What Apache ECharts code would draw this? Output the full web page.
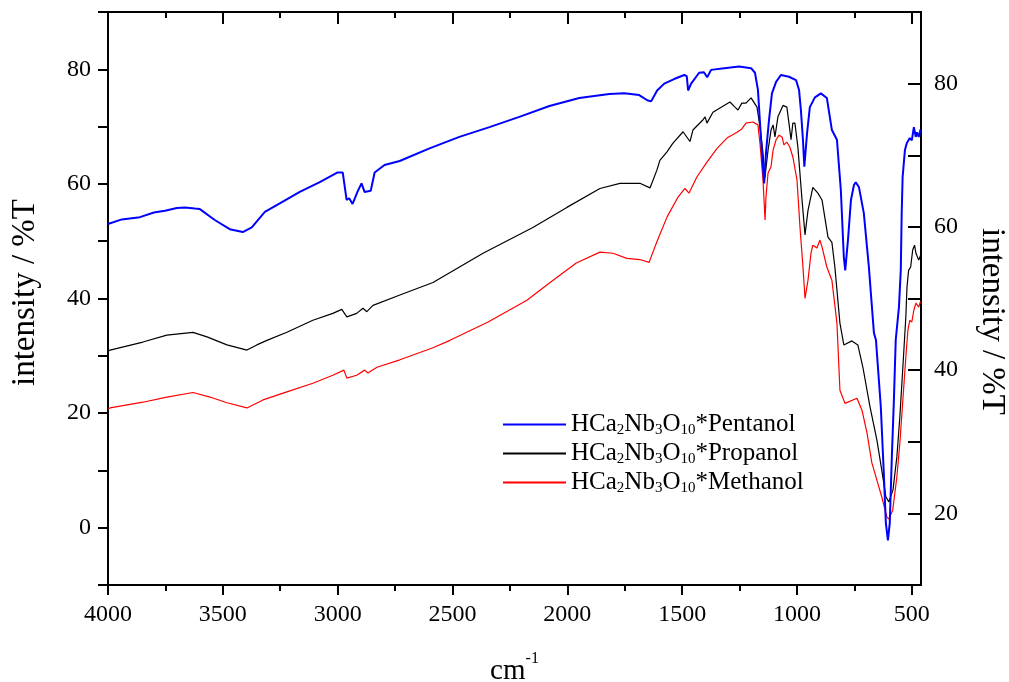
<!DOCTYPE html>
<html>
<head>
<meta charset="utf-8">
<script src="https://cdn.jsdelivr.net/npm/echarts@6/dist/echarts.min.js"></script>
<style>html,body{margin:0;padding:0;background:#fff;}#c{width:1009px;height:682px;}</style>
</head>
<body>
<div id="c"></div>
<script>
const xMajorTicks = [4000, 3500, 3000, 2500, 2000, 1500, 1000, 500];
const xMinorTicks = [3750, 3250, 2750, 2250, 1750, 1250, 750];
const solvents = ['Pentanol', 'Propanol', 'Methanol'];
const seriesColors = ['#0000ff', '#000000', '#ff0000'];

const pentanol = [[4000,53.0],[3940,53.8],[3861,54.2],[3800,55.0],[3752,55.3],[3700,55.8],[3665,55.9],[3622,55.7],[3600,55.6],[3535,53.7],[3470,52.1],[3413,51.6],[3374,52.4],[3317,55.1],[3252,56.6],[3165,58.6],[3078,60.3],[3000,62.0],[2978,62.0],[2961,57.2],[2950,57.5],[2935,56.5],[2913,58.7],[2896,60.1],[2883,58.6],[2856,58.8],[2839,62.0],[2796,63.3],[2730,64.0],[2600,66.2],[2470,68.2],[2339,69.9],[2209,71.7],[2078,73.6],[1948,75.0],[1817,75.7],[1752,75.8],[1687,75.5],[1652,74.6],[1635,74.4],[1609,76.3],[1578,77.5],[1535,78.3],[1491,79.0],[1480,78.8],[1474,76.3],[1461,77.5],[1426,79.4],[1405,79.5],[1391,78.6],[1374,79.9],[1317,80.2],[1252,80.5],[1200,80.2],[1183,79.4],[1170,76.4],[1161,70.6],[1150,64.0],[1143,60.1],[1135,65.4],[1122,71.1],[1109,75.8],[1091,77.8],[1070,79.0],[1035,78.7],[1004,78.1],[991,76.4],[983,72.9],[974,67.7],[968,63.0],[956,68.9],[944,73.4],[922,75.1],[896,75.8],[870,75.0],[848,69.4],[826,67.7],[809,58.9],[796,47.2],[790,44.9],[778,50.2],[765,57.2],[752,59.8],[744,60.3],[730,59.4],[709,54.9],[687,45.5],[665,34.0],[656,32.7],[635,21.1],[622,9.5],[613,0.8],[604,-2.2],[596,0.8],[587,12.3],[578,22.3],[570,32.8],[556,38.5],[548,45.0],[544,55.0],[540,61.2],[530,65.9],[522,67.1],[509,68.0],[500,67.6],[491,69.9],[483,68.2],[478,69.0],[470,68.2],[462,69.5]];

const propanol = [[4000,30.8],[3991,31.0],[3848,32.4],[3744,33.6],[3630,34.1],[3569,33.3],[3482,31.9],[3395,31.0],[3352,31.9],[3308,32.7],[3221,34.1],[3108,36.2],[3021,37.4],[2982,38.1],[2960,36.8],[2917,37.4],[2890,38.3],[2873,37.7],[2846,38.8],[2729,40.6],[2585,42.8],[2367,47.9],[2150,52.4],[2002,55.9],[1858,59.2],[1771,60.1],[1684,60.1],[1640,59.3],[1610,62.4],[1597,64.1],[1566,65.6],[1540,67.1],[1496,69.1],[1466,67.4],[1453,69.4],[1409,71.2],[1400,71.7],[1392,70.6],[1366,72.5],[1292,74.3],[1270,73.4],[1257,72.9],[1240,74.1],[1222,74.1],[1200,75.0],[1174,73.4],[1161,69.9],[1148,65.4],[1140,61.0],[1126,65.9],[1113,69.4],[1104,70.3],[1096,68.2],[1083,71.7],[1061,73.7],[1044,73.4],[1035,70.6],[1026,67.7],[1018,70.6],[1009,70.6],[996,66.4],[978,57.2],[965,51.1],[952,55.4],[931,59.4],[909,58.4],[891,57.2],[865,50.7],[848,49.8],[835,45.5],[813,35.7],[796,31.9],[761,32.6],[735,31.9],[713,28.0],[682,21.1],[652,15.3],[631,10.1],[613,5.4],[600,4.5],[582,6.6],[565,12.4],[552,19.4],[539,28.0],[526,36.8],[521,42.0],[514,44.9],[505,45.5],[496,48.5],[488,49.3],[482,47.9],[470,46.7],[462,47.5]];

const methanol = [[4000,20.7],[3991,20.9],[3848,21.9],[3744,22.8],[3630,23.6],[3556,22.8],[3482,21.8],[3395,20.9],[3325,22.3],[3221,23.7],[3108,25.2],[3021,26.6],[2973,27.5],[2960,26.1],[2917,26.6],[2882,27.5],[2868,27.0],[2829,28.0],[2729,29.3],[2585,31.4],[2511,32.7],[2345,35.9],[2176,39.7],[2078,42.7],[1961,46.2],[1858,48.1],[1801,47.9],[1741,47.0],[1684,46.8],[1644,46.3],[1610,49.9],[1566,54.2],[1518,57.7],[1488,59.2],[1470,58.4],[1436,61.2],[1392,63.8],[1348,66.2],[1305,68.0],[1261,69.0],[1240,69.6],[1222,70.6],[1192,70.8],[1170,70.3],[1161,67.0],[1148,60.7],[1139,53.7],[1135,57.7],[1126,61.9],[1113,63.0],[1104,65.9],[1091,67.7],[1078,68.5],[1065,68.2],[1057,66.8],[1044,67.3],[1031,66.4],[1018,64.7],[1000,60.7],[987,52.5],[974,45.5],[965,40.0],[952,43.2],[939,47.9],[931,49.3],[913,48.8],[900,50.2],[891,49.0],[870,45.5],[848,43.2],[826,35.7],[813,24.0],[791,21.7],[739,22.6],[717,20.5],[695,16.5],[674,11.3],[652,8.3],[631,5.4],[609,1.9],[600,1.5],[583,3.1],[565,8.9],[552,14.8],[539,22.3],[526,29.8],[517,34.5],[509,36.2],[500,35.9],[491,38.0],[482,39.2],[470,38.5],[462,39.5]];

const seriesData = [pentanol, propanol, methanol];
const seriesNames = solvents.map(s => 'HCa2Nb3O10*' + s);

const FONT = '"Liberation Serif", "Times New Roman", serif';
const X_MIN = 460, X_MAX = 4000;

const chart = echarts.init(document.getElementById('c'), null, {renderer: 'canvas'});

function xAxisDef(pos, ticks, len, inside, showLine, showLabel) {
  return {
    type: 'value', position: pos, min: X_MIN, max: X_MAX, inverse: true,
    axisLine: {show: showLine, onZero: false, lineStyle: {color: '#000', width: 2}},
    axisTick: {show: true, inside: inside, length: len, customValues: ticks, lineStyle: {color: '#000', width: 2}},
    axisLabel: {show: showLabel, customValues: ticks, margin: 18, color: '#000', fontFamily: FONT, fontSize: 24,
      formatter: v => String(v)},
    splitLine: {show: false}
  };
}

const option = {
  backgroundColor: '#fff',
  animation: false,
  grid: {left: 108, right: 88, top: 12, bottom: 97, containLabel: false, outerBoundsMode: 'none'},
  legend: {
    orient: 'vertical', left: 497, top: 407,
    itemWidth: 63, itemHeight: 14, itemGap: 3,
    data: seriesNames,
    itemStyle: {opacity: 0},
    formatter: function (name) {
      const s = name.split('*')[1];
      return '{m|HCa}{s|2}{m|Nb}{s|3}{m|O}{s|10}{m|*' + s + '}';
    },
    textStyle: {
      color: '#000', fontFamily: FONT,
      rich: {
        m: {fontSize: 25, fontFamily: FONT, color: '#000', lineHeight: 27},
        s: {fontSize: 15, fontFamily: FONT, color: '#000', lineHeight: 3, verticalAlign: 'bottom'}
      }
    }
  },
  xAxis: [
    Object.assign(xAxisDef('bottom', xMajorTicks, 10, false, true, true), {
      name: '{b|cm}{sup|-1}', nameLocation: 'middle', nameGap: 66,
      nameTextStyle: {
        rich: {
          b: {fontSize: 29, fontFamily: FONT, color: '#000', lineHeight: 34},
          sup: {fontSize: 16, fontFamily: FONT, color: '#000', lineHeight: 40, verticalAlign: 'top'}
        }
      }
    }),
    xAxisDef('bottom', xMinorTicks, 6, false, false, false),
    xAxisDef('top', xMajorTicks, 12, true, true, false),
    xAxisDef('top', xMinorTicks, 6, true, false, false)
  ],
  yAxis: [
    {
      type: 'value', position: 'left', min: -10, max: 90, interval: 10,
      name: 'intensity / %T', nameLocation: 'middle', nameGap: 66, nameRotate: 90,
      nameTextStyle: {fontFamily: FONT, fontSize: 33, color: '#000', padding: [0, 0, 0, 12]},
      axisLine: {show: true, onZero: false, lineStyle: {color: '#000', width: 2}},
      axisTick: {show: true, inside: false, length: 10, lineStyle: {color: '#000', width: 2}},
      axisLabel: {margin: 17, color: '#000', fontFamily: FONT, fontSize: 24,
        formatter: v => (v % 20 === 0 && v >= 0 && v <= 80) ? String(v) : ''},
      splitLine: {show: false}
    },
    {
      type: 'value', position: 'right', min: 10, max: 90, interval: 10,
      name: 'intensity / %T', nameLocation: 'middle', nameGap: 54, nameRotate: -90,
      nameTextStyle: {fontFamily: FONT, fontSize: 33, color: '#000', padding: [0, 0, 0, 46]},
      axisLine: {show: true, onZero: false, lineStyle: {color: '#000', width: 2}},
      axisTick: {show: true, inside: true, length: 13, lineStyle: {color: '#000', width: 2}},
      axisLabel: {margin: 13, color: '#000', fontFamily: FONT, fontSize: 24,
        formatter: v => (v % 20 === 0 && v >= 20 && v <= 80) ? String(v) : ''},
      splitLine: {show: false}
    }
  ],
  series: seriesNames.map((n, i) => ({
    name: n, type: 'line', xAxisIndex: 0, yAxisIndex: 0,
    data: seriesData[i], symbol: 'none', smooth: false,
    z: 3 - i,
    lineStyle: {color: seriesColors[i], width: i === 0 ? 2 : 1.2},
    itemStyle: {color: seriesColors[i]}
  }))
};
chart.setOption(option);
</script>
</body>
</html>
